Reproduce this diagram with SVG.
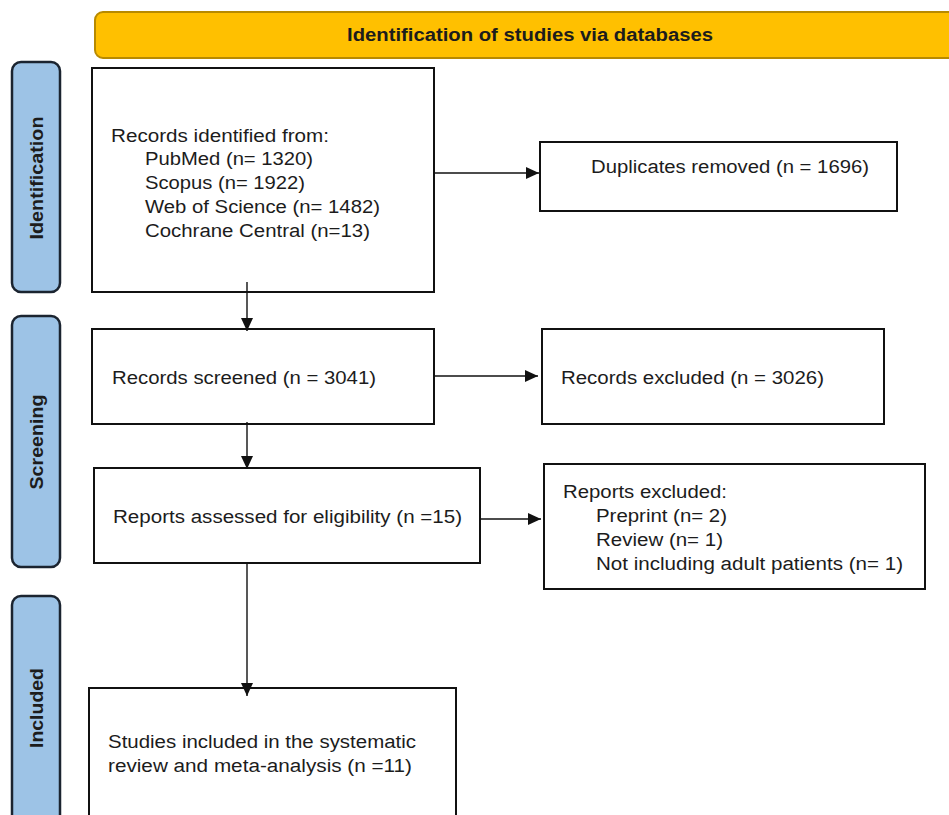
<svg xmlns="http://www.w3.org/2000/svg" width="949" height="815" viewBox="0 0 949 815">
<style>
.box{fill:#fff;stroke:#111;stroke-width:2}
.side{fill:#9DC3E6;stroke:#1b2430;stroke-width:2.5}
.t{font-family:"Liberation Sans",Arial,sans-serif;font-size:18px;fill:#1c1c1c}
.sl{font-family:"Liberation Sans",Arial,sans-serif;font-size:19px;font-weight:bold;fill:#1c1c1c}
.cn{stroke:#111;stroke-width:1.4;fill:none}
</style>
<defs>
<marker id="ah" markerUnits="userSpaceOnUse" markerWidth="14" markerHeight="12" refX="13" refY="6" orient="auto">
<path d="M0,0 L13,6 L0,12 Z" fill="#111"/>
</marker>
</defs>
<rect width="949" height="815" fill="#fff"/>
<g id="banner">
<rect x="95" y="12" width="870" height="46" rx="8" fill="#FFC000" stroke="#B88A00" stroke-width="2"/>
<text x="530" y="41" text-anchor="middle" font-family="'Liberation Sans',Arial,sans-serif" font-size="18" font-weight="bold" fill="#1c1c1c" textLength="366" lengthAdjust="spacingAndGlyphs">Identification of studies via databases</text>
</g>
<g id="side-identification">
<rect class="side" x="12" y="62" width="48" height="230" rx="9"/>
<text class="sl" transform="translate(43,178) rotate(-90)" text-anchor="middle" textLength="123" lengthAdjust="spacingAndGlyphs">Identification</text>
</g>
<g id="side-screening">
<rect class="side" x="12" y="316" width="48" height="251" rx="9"/>
<text class="sl" transform="translate(43,442) rotate(-90)" text-anchor="middle" textLength="95" lengthAdjust="spacingAndGlyphs">Screening</text>
</g>
<g id="side-included">
<rect class="side" x="12" y="596" width="48" height="240" rx="9"/>
<text class="sl" transform="translate(43,708) rotate(-90)" text-anchor="middle" textLength="80" lengthAdjust="spacingAndGlyphs">Included</text>
</g>
<g id="records-identified">
<rect class="box" x="92" y="68" width="342" height="224"/>
<text class="t" x="111" y="142" textLength="218" lengthAdjust="spacingAndGlyphs">Records identified from:</text>
<text class="t" x="145" y="165" textLength="168" lengthAdjust="spacingAndGlyphs">PubMed (n= 1320)</text>
<text class="t" x="145" y="189" textLength="160" lengthAdjust="spacingAndGlyphs">Scopus (n= 1922)</text>
<text class="t" x="145" y="213" textLength="235" lengthAdjust="spacingAndGlyphs">Web of Science (n= 1482)</text>
<text class="t" x="145" y="237" textLength="225" lengthAdjust="spacingAndGlyphs">Cochrane Central (n=13)</text>
</g>
<g id="duplicates-removed">
<rect class="box" x="540" y="142" width="357" height="69"/>
<text class="t" x="591" y="173" textLength="278" lengthAdjust="spacingAndGlyphs">Duplicates removed (n = 1696)</text>
</g>
<g id="records-screened">
<rect class="box" x="92" y="329" width="342" height="95"/>
<text class="t" x="112" y="384" textLength="264" lengthAdjust="spacingAndGlyphs">Records screened (n = 3041)</text>
</g>
<g id="records-excluded">
<rect class="box" x="542" y="329" width="342" height="95"/>
<text class="t" x="561" y="384" textLength="263" lengthAdjust="spacingAndGlyphs">Records excluded (n = 3026)</text>
</g>
<g id="reports-assessed">
<rect class="box" x="94" y="468" width="386" height="95"/>
<text class="t" x="113" y="523" textLength="349" lengthAdjust="spacingAndGlyphs">Reports assessed for eligibility (n =15)</text>
</g>
<g id="reports-excluded">
<rect class="box" x="544" y="464" width="381" height="125"/>
<text class="t" x="563" y="498" textLength="164" lengthAdjust="spacingAndGlyphs">Reports excluded:</text>
<text class="t" x="596" y="522" textLength="131" lengthAdjust="spacingAndGlyphs">Preprint (n= 2)</text>
<text class="t" x="596" y="546" textLength="127" lengthAdjust="spacingAndGlyphs">Review (n= 1)</text>
<text class="t" x="596" y="570" textLength="307" lengthAdjust="spacingAndGlyphs">Not including adult patients (n= 1)</text>
</g>
<g id="studies-included">
<rect class="box" x="89" y="688" width="367" height="140"/>
<text class="t" x="108" y="748" textLength="308" lengthAdjust="spacingAndGlyphs">Studies included in the systematic</text>
<text class="t" x="108" y="772" textLength="304" lengthAdjust="spacingAndGlyphs">review and meta-analysis (n =11)</text>
</g>
<g id="connectors">
<line class="cn" x1="247" y1="282" x2="247" y2="331" marker-end="url(#ah)"/>
<line class="cn" x1="434" y1="173" x2="539" y2="173" marker-end="url(#ah)"/>
<line class="cn" x1="247" y1="422" x2="247" y2="469" marker-end="url(#ah)"/>
<line class="cn" x1="434" y1="376" x2="538" y2="376" marker-end="url(#ah)"/>
<line class="cn" x1="480" y1="519" x2="541" y2="519" marker-end="url(#ah)"/>
<line class="cn" x1="247" y1="563" x2="247" y2="696" marker-end="url(#ah)"/>
</g>
</svg>
